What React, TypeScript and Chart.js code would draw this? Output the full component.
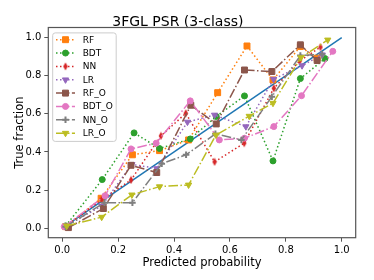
import React, { useEffect, useRef } from "react";
import { Chart, registerables } from "chart.js";
import { drawPoint } from "chart.js/helpers";

Chart.register(...registerables);

const TITLE = "3FGL PSR (3-class)";
const X_LABEL = "Predicted probability";
const Y_LABEL = "True fraction";
const TICKS = [0, 0.2, 0.4, 0.6, 0.8, 1.0];

const PERFECT_X = [0, 1];
const PERFECT_Y = [0, 1];

const RF_X = [0.012, 0.139, 0.251, 0.348, 0.452, 0.556, 0.661, 0.754, 0.852, 0.912];
const RF_Y = [0.008, 0.157, 0.385, 0.407, 0.463, 0.711, 0.956, 0.778, 0.953, 0.892];

const BDT_X = [0.012, 0.143, 0.257, 0.348, 0.458, 0.551, 0.652, 0.754, 0.852, 0.94];
const BDT_Y = [0.012, 0.255, 0.5, 0.418, 0.468, 0.586, 0.694, 0.353, 0.785, 0.89];

const NN_X = [0.012, 0.141, 0.246, 0.353, 0.442, 0.545, 0.651, 0.757, 0.85, 0.924];
const NN_Y = [0.008, 0.15, 0.253, 0.484, 0.603, 0.348, 0.446, 0.734, 0.878, 0.95];

const LR_X = [0.012, 0.141, 0.249, 0.338, 0.448, 0.545, 0.657, 0.756, 0.858, 0.93];
const LR_Y = [0.01, 0.117, 0.335, 0.313, 0.557, 0.594, 0.533, 0.782, 0.853, 0.91];

const RF_O_X = [0.022, 0.147, 0.246, 0.338, 0.46, 0.551, 0.652, 0.75, 0.852, 0.912];
const RF_O_Y = [0.003, 0.103, 0.33, 0.292, 0.645, 0.547, 0.83, 0.822, 0.962, 0.88];

const BDT_O_X = [0.007, 0.153, 0.246, 0.336, 0.458, 0.562, 0.652, 0.757, 0.856, 0.968];
const BDT_O_Y = [0.008, 0.17, 0.416, 0.446, 0.668, 0.463, 0.472, 0.533, 0.695, 0.928];

const NN_O_X = [0.012, 0.151, 0.251, 0.356, 0.443, 0.548, 0.641, 0.75, 0.852, 0.93];
const NN_O_Y = [0.008, 0.134, 0.134, 0.338, 0.385, 0.495, 0.463, 0.69, 0.906, 0.912];

const LR_O_X = [0.016, 0.141, 0.249, 0.348, 0.452, 0.55, 0.669, 0.754, 0.854, 0.95];
const LR_O_Y = [0.012, 0.058, 0.175, 0.218, 0.227, 0.489, 0.588, 0.656, 0.895, 0.988];

const DOT = [1.5, 2.5];
const DASHDOT = [9.6, 2.4, 1.5, 2.4];

function pts(xs: number[], ys: number[]) {
  return xs.map((x, i) => ({ x, y: ys[i] }));
}

function thinDiamond(color: string) {
  const c = document.createElement("canvas");
  c.width = 6;
  c.height = 9;
  const g = c.getContext("2d")!;
  g.fillStyle = color;
  g.beginPath();
  g.moveTo(3, 0.5);
  g.lineTo(5.3, 4.5);
  g.lineTo(3, 8.5);
  g.lineTo(0.7, 4.5);
  g.closePath();
  g.fill();
  return c;
}

export default function App() {
  const ref = useRef<HTMLCanvasElement | null>(null);

  useEffect(() => {
    document.body.style.margin = "0";
    const diamond = thinDiamond("#d62728");
    const SERIES = [
      { label: "RF", xs: RF_X, ys: RF_Y, color: "#ff7f0e", dash: DOT, style: "rect", r: 4.2, rot: 0, bw: 1 },
      { label: "BDT", xs: BDT_X, ys: BDT_Y, color: "#2ca02c", dash: DOT, style: "circle", r: 3, rot: 0, bw: 1 },
      { label: "NN", xs: NN_X, ys: NN_Y, color: "#d62728", dash: DOT, style: diamond, r: 3, rot: 0, bw: 1 },
      { label: "LR", xs: LR_X, ys: LR_Y, color: "#9467bd", dash: DOT, style: "triangle", r: 3.6, rot: 180, bw: 1 },
      { label: "RF_O", xs: RF_O_X, ys: RF_O_Y, color: "#8c564b", dash: DASHDOT, style: "rect", r: 4.2, rot: 0, bw: 1 },
      { label: "BDT_O", xs: BDT_O_X, ys: BDT_O_Y, color: "#e377c2", dash: DASHDOT, style: "circle", r: 3, rot: 0, bw: 1 },
      { label: "NN_O", xs: NN_O_X, ys: NN_O_Y, color: "#7f7f7f", dash: DASHDOT, style: "cross", r: 3.3, rot: 0, bw: 2 },
      { label: "LR_O", xs: LR_O_X, ys: LR_O_Y, color: "#bcbd22", dash: DASHDOT, style: "triangle", r: 3.6, rot: 180, bw: 1 },
    ];

    const datasets: any[] = [
      {
        label: "",
        data: pts(PERFECT_X, PERFECT_Y),
        borderColor: "#1f77b4",
        borderWidth: 1.5,
        pointRadius: 0,
        showLine: true,
        order: 20,
        isRef: true,
      },
    ];
    SERIES.forEach((s, i) => {
      datasets.push({
        label: s.label,
        data: pts(s.xs, s.ys),
        borderColor: s.color,
        backgroundColor: s.color,
        borderWidth: 1.5,
        borderDash: s.dash,
        pointStyle: s.style,
        pointRadius: s.r,
        pointRotation: s.rot,
        pointBorderWidth: s.bw,
        pointBackgroundColor: s.color,
        pointBorderColor: s.color,
        showLine: true,
        fill: false,
        tension: 0,
        order: 10 - i,
      });
    });

    const framePlugin = {
      id: "frameLegend",
      afterDatasetsDraw(chart: any) {
        const { ctx, chartArea: a } = chart;
        ctx.save();
        ctx.strokeStyle = "#555555";
        ctx.lineWidth = 1.2;
        ctx.setLineDash([]);
        ctx.strokeRect(a.left, a.top, a.right - a.left, a.bottom - a.top);
        ctx.restore();
      },
      afterDraw(chart: any) {
        const { ctx, chartArea: a } = chart;
        const bx = a.left + 4.4;
        const by = a.top + 5.4;
        const bw = 63.5;
        const bh = 108.5;
        ctx.save();
        ctx.beginPath();
        const rr = 2.5;
        ctx.moveTo(bx + rr, by);
        ctx.lineTo(bx + bw - rr, by);
        ctx.quadraticCurveTo(bx + bw, by, bx + bw, by + rr);
        ctx.lineTo(bx + bw, by + bh - rr);
        ctx.quadraticCurveTo(bx + bw, by + bh, bx + bw - rr, by + bh);
        ctx.lineTo(bx + rr, by + bh);
        ctx.quadraticCurveTo(bx, by + bh, bx, by + bh - rr);
        ctx.lineTo(bx, by + rr);
        ctx.quadraticCurveTo(bx, by, bx + rr, by);
        ctx.closePath();
        ctx.fillStyle = "rgba(255,255,255,0.8)";
        ctx.fill();
        ctx.strokeStyle = "#cccccc";
        ctx.lineWidth = 1;
        ctx.stroke();
        const list = chart.data.datasets.filter((d: any) => !d.isRef);
        list.forEach((d: any, i: number) => {
          const y = by + 6.8 + i * 13.35;
          ctx.strokeStyle = d.borderColor;
          ctx.lineWidth = 1.5;
          ctx.setLineDash(d.borderDash || []);
          ctx.beginPath();
          ctx.moveTo(bx + 3.3, y);
          ctx.lineTo(bx + 22.3, y);
          ctx.stroke();
          ctx.setLineDash([]);
          ctx.fillStyle = d.pointBackgroundColor;
          ctx.strokeStyle = d.pointBorderColor;
          ctx.lineWidth = d.pointBorderWidth;
          drawPoint(ctx, { pointStyle: d.pointStyle, rotation: d.pointRotation, radius: d.pointRadius, borderWidth: d.pointBorderWidth } as any, bx + 12.8, y);
          ctx.fillStyle = "#000000";
          ctx.font = "9px 'DejaVu Sans'";
          ctx.textBaseline = "middle";
          ctx.textAlign = "left";
          ctx.fillText(d.label, bx + 30, y + 0.5);
        });
        ctx.restore();
      },
    };

    const axisCommon = (fitFn: (s: any) => void, label: string, pad: any) => ({
      type: "linear" as const,
      afterBuildTicks: (s: any) => {
        s.ticks = TICKS.map((v) => ({ value: v }));
      },
      afterFit: fitFn,
      grid: { display: true, drawOnChartArea: false, drawTicks: true, tickLength: 4, color: "#555555", lineWidth: 1 },
      border: { display: false },
      ticks: {
        color: "#000000",
        padding: 3,
        font: { size: 10, family: "'DejaVu Sans'" },
        callback: (v: any) => Number(v).toFixed(1),
      },
      title: {
        display: true,
        text: label,
        color: "#000000",
        font: { size: 11.5, family: "'DejaVu Sans'" },
        padding: pad,
      },
    });

    const chart = new Chart(ref.current!, {
      type: "line",
      data: { datasets },
      plugins: [framePlugin],
      options: {
        animation: false,
        responsive: false,
        devicePixelRatio: 1,
        layout: { padding: { left: 0, right: 18.3, top: 0, bottom: 0 } },
        plugins: {
          legend: { display: false },
          tooltip: { enabled: false },
          title: {
            display: true,
            text: TITLE,
            color: "#000000",
            font: { size: 14, family: "'DejaVu Sans'", weight: "normal", lineHeight: 1 },
            padding: { top: 15.5, bottom: -2 },
          },
        },
        scales: {
          x: {
            ...axisCommon((s: any) => { s.height = 42.3; }, X_LABEL, { top: 4, bottom: 9.8 }),
            min: -0.05,
            max: 1.05,
          },
          y: {
            ...axisCommon((s: any) => { s.width = 48.3; }, Y_LABEL, { top: 13.1, bottom: 4 }),
            min: -0.05,
            max: 1.053,
          },
        },
      } as any,
    });
    return () => chart.destroy();
  }, []);

  return (
    <div style={{ position: "fixed", left: 0, top: 0, width: 374, height: 280 }}>
      <canvas ref={ref} width={374} height={280} style={{ display: "block" }} />
    </div>
  );
}
